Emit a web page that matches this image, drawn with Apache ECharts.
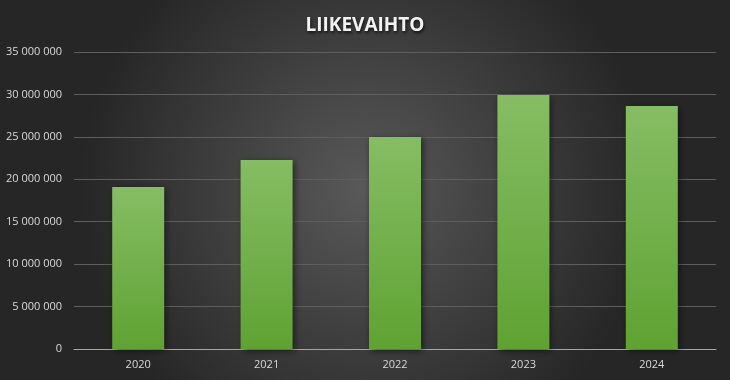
<!DOCTYPE html>
<html>
<head>
<meta charset="utf-8">
<script src="https://cdn.jsdelivr.net/npm/echarts@6/dist/echarts.min.js"></script>
<style>html,body{margin:0;padding:0;background:#3a3a3a;}#c{width:730px;height:380px;}</style>
</head>
<body>
<div id="c"></div>
<script>
const titleText = 'LIIKEVAIHTO';
const years = ['2020', '2021', '2022', '2023', '2024'];
const revenue = [19100000, 22270000, 24980000, 29930000, 28640000];
const yMin = 0, yMax = 35000000, yStep = 5000000;

const chart = echarts.init(document.getElementById('c'), null, {renderer: 'canvas'});
const fmt = v => String(v).replace(/\B(?=(\d{3})+(?!\d))/g, ' ');
chart.setOption({
  animation: false,
  backgroundColor: {
    type: 'radial', x: 0.5, y: 0.5, r: 0.75,
    colorStops: [{offset: 0, color: '#595959'}, {offset: 1, color: '#262626'}]
  },
  title: {
    text: titleText, left: 'center', top: 11,
    textStyle: {
      color: '#f2f2f2', fontFamily: 'Open Sans', fontWeight: 'bold', fontSize: 19,
      textShadowColor: 'rgba(0,0,0,0.7)', textShadowBlur: 3, textShadowOffsetX: 1, textShadowOffsetY: 2
    }
  },
  grid: {left: 74, right: 14, top: 52, bottom: 31},
  xAxis: {
    type: 'category', data: years,
    axisLine: {lineStyle: {color: '#a6a6a6', width: 1}},
    axisTick: {show: false},
    axisLabel: {color: '#d9d9d9', fontFamily: 'Open Sans', fontSize: 11, margin: 10}
  },
  yAxis: {
    type: 'value', min: yMin, max: yMax, interval: yStep,
    axisLine: {show: false}, axisTick: {show: false},
    splitLine: {lineStyle: {color: '#5e5e5e', width: 1}},
    axisLabel: {color: '#d9d9d9', fontFamily: 'Open Sans', fontSize: 11, margin: 12, formatter: fmt}
  },
  series: [{
    type: 'bar', data: revenue, barWidth: 52,
    itemStyle: {
      color: {type: 'linear', x: 0, y: 0, x2: 0, y2: 1,
        colorStops: [{offset: 0, color: '#86bd64'}, {offset: 1, color: '#5fa232'}]},
      shadowColor: 'rgba(0,0,0,0.55)', shadowBlur: 7, shadowOffsetX: 2, shadowOffsetY: 2
    }
  }]
});
</script>
</body>
</html>
